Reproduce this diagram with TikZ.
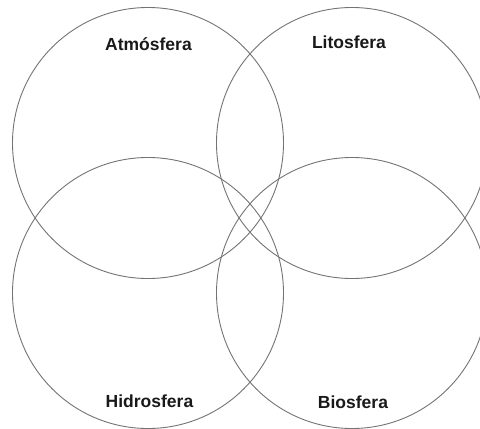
\documentclass[tikz,border=0pt]{standalone}
\usepackage{fontspec}
\setmainfont{Liberation Sans}
\usepackage{tikz}
\usetikzlibrary{positioning}

\tikzset{
	sphere/.style={circle, draw=black!55, line width=0.9pt, minimum size=271pt, inner sep=0pt},
	spherename/.style={font=\fontsize{17.5}{20}\selectfont\bfseries, text=black!90, inner sep=0pt, anchor=base}
}

\begin{document}
\begin{tikzpicture}[x=1pt,y=-1pt]
		
		\clip (0,0) rectangle (480,429);
		
		% the four spheres
		\node[sphere] (atmo) at (148,143) {};
		\node[sphere] (lito) at (352,143) {};
		\node[sphere] (hidro) at (148,293) {};
		\node[sphere] (bio) at (352,293) {};
		
		% names
		\node[spherename] (atmolabel) at (148.5,50) {Atmósfera};
		\node[spherename] (litolabel) at (349,48) {Litosfera};
		\node[spherename] (hidrolabel) at (149.5,407) {Hidrosfera};
		\node[spherename] (biolabel) at (353,408) {Biosfera};
		
	\end{tikzpicture}
\end{document}
